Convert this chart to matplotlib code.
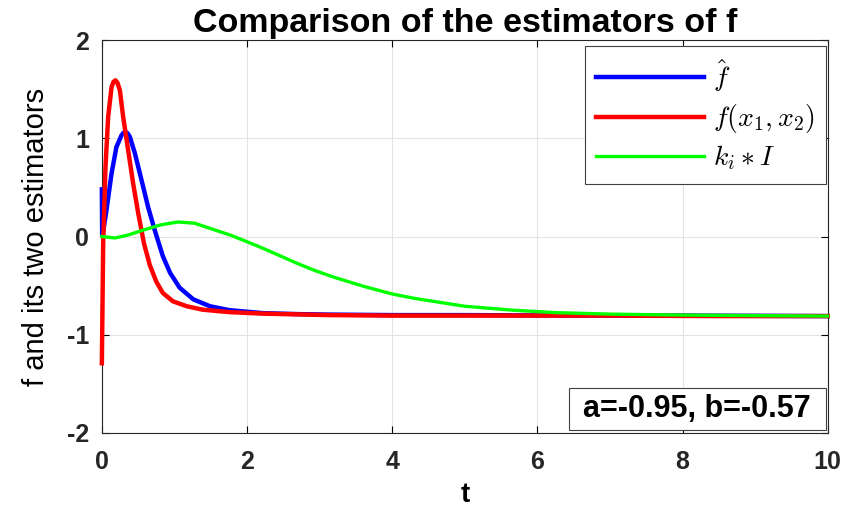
"""Comparison of the estimators of f (MATLAB-style figure)."""

import matplotlib
matplotlib.use("Agg")
import matplotlib.pyplot as plt
from matplotlib.patches import Rectangle

# f hat (blue)
t_hat = [0.0, 0.004, 0.018, 0.064, 0.133, 0.20, 0.27, 0.30, 0.326, 0.355, 0.385,
         0.454, 0.546, 0.637, 0.73, 0.84, 0.94, 1.07, 1.26, 1.49, 1.76, 2.22, 2.7,
         3.14, 4.0, 5.0, 6.5, 8.0, 10.0]
f_hat = [0.48, 0.0, 0.05, 0.27, 0.64, 0.91, 1.03, 1.058, 1.066, 1.05, 1.015,
         0.85, 0.575, 0.30, 0.06, -0.20, -0.37, -0.52, -0.64, -0.71, -0.75, -0.78,
         -0.79, -0.795, -0.80, -0.80, -0.805, -0.805, -0.81]

# f(x1, x2) (red)
t_true = [0.0, 0.018, 0.05, 0.087, 0.133, 0.16, 0.188, 0.215, 0.248, 0.293, 0.362,
          0.431, 0.50, 0.58, 0.66, 0.75, 0.84, 0.98, 1.17, 1.39, 1.76, 2.22, 3.14,
          4.0, 5.5, 7.0, 8.5, 10.0]
f_true = [-1.29, -0.07, 0.71, 1.22, 1.52, 1.575, 1.59, 1.565, 1.49, 1.22, 0.88,
          0.54, 0.24, -0.07, -0.29, -0.46, -0.575, -0.66, -0.71, -0.745, -0.77,
          -0.785, -0.80, -0.805, -0.805, -0.805, -0.81, -0.81]

# k_i * I (green)
t_ki = [0.0, 0.18, 0.36, 0.59, 0.82, 1.05, 1.28, 1.42, 1.76, 1.99, 2.22, 2.68,
        2.93, 3.2, 3.62, 4.0, 4.31, 5.0, 5.66, 6.26, 7.0, 8.0, 9.0, 10.0]
ki_I = [0.0, -0.015, 0.015, 0.07, 0.12, 0.148, 0.135, 0.10, 0.017, -0.05, -0.12,
        -0.27, -0.345, -0.415, -0.51, -0.585, -0.63, -0.71, -0.75, -0.775, -0.79,
        -0.80, -0.805, -0.81]

x_ticks = [0, 2, 4, 6, 8, 10]
y_ticks = [-2, -1, 0, 1, 2]
a_val, b_val = -0.95, -0.57

plt.rcParams["font.family"] = ["Liberation Sans", "DejaVu Sans"]
plt.rcParams["mathtext.fontset"] = "cm"
plt.rcParams["axes.unicode_minus"] = False

fig = plt.figure(figsize=(8.56, 5.07), dpi=100)
ax = fig.add_axes([0.119, 0.146, 0.848, 0.775])

# lines drawn over the spines and not clipped, as MATLAB does
line_kw = dict(solid_joinstyle="round", clip_on=False, zorder=3)
ax.plot(t_hat, f_hat, color=(0, 0, 1), linewidth=3.2, label=r"$\hat{f}$", **line_kw)
ax.plot(t_true, f_true, color=(1, 0, 0), linewidth=3.2, label=r"$f(x_1,x_2)$", **line_kw)
ax.plot(t_ki, ki_I, color=(0, 1, 0), linewidth=2.4, label=r"$k_i*I$", **line_kw)

ax.set_xlim(0, 10)
ax.set_ylim(-2, 2)
ax.set_xticks(x_ticks)
ax.set_yticks(y_ticks)
ax.grid(True, color="#e3e3e3", linewidth=0.8)
ax.tick_params(direction="in", top=True, right=True, length=5, width=0.8,
               labelsize=18)
ax.tick_params(axis="x", pad=12)
ax.tick_params(axis="y", pad=9)
for lab in ax.get_xticklabels() + ax.get_yticklabels():
    lab.set_fontweight("bold")
    lab.set_color("#262626")
for sp in ax.spines.values():
    sp.set_linewidth(0.8)
    sp.set_color("#262626")

ax.set_title("Comparison of the estimators of f", fontsize=24.5, fontweight="bold", pad=6)
ax.set_xlabel("t", fontsize=20, fontweight="bold", labelpad=6)
ax.set_ylabel("f and its two estimators", fontsize=21)
ax.yaxis.set_label_coords(-0.072, 0.5)

leg = ax.legend(loc="upper right", fontsize=20, handlelength=3.9, handletextpad=0.3,
                borderpad=0.4, labelspacing=0.3, fancybox=False, framealpha=1,
                borderaxespad=0, bbox_to_anchor=(0.997, 0.985))
leg.get_frame().set_edgecolor("#404040")
leg.get_frame().set_linewidth(0.8)

box = Rectangle((0.643, 0.008), 0.354, 0.107, transform=ax.transAxes,
                facecolor="white", edgecolor="#404040", linewidth=0.8, zorder=5)
ax.add_patch(box)
ax.text(0.82, 0.0615, f"a={a_val}, b={b_val}", transform=ax.transAxes,
        fontsize=22, fontweight="bold", ha="center", va="center", zorder=6)

fig.savefig("out.png", dpi=100)
